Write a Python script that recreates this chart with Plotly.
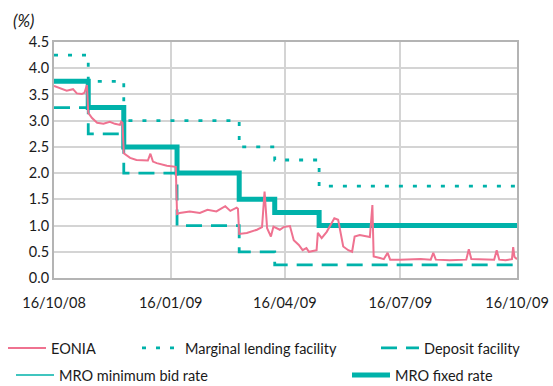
import plotly.graph_objects as go

# ECB policy rates (step series) - dates of change and new level, %
policy_dates = ["2008-10-16", "2008-11-12", "2008-12-10", "2009-01-21",
                "2009-03-11", "2009-04-08", "2009-05-13", "2009-10-16"]
mro_fixed = [3.75, 3.25, 2.50, 2.00, 1.50, 1.25, 1.00, 1.00]
marginal_lending = [4.25, 3.75, 3.00, 3.00, 2.50, 2.25, 1.75, 1.75]
deposit_facility = [3.25, 2.75, 2.00, 1.00, 0.50, 0.25, 0.25, 0.25]

# MRO minimum bid rate: variable-rate tenders were suspended over this window
mro_min_dates = [None]
mro_min_bid = [None]

# EONIA overnight rate, %
eonia_dates = [
    "2008-10-16", "2008-10-21", "2008-10-26", "2008-10-31", "2008-11-03",
    "2008-11-07", "2008-11-09", "2008-11-11", "2008-11-12", "2008-11-15",
    "2008-11-19", "2008-11-24", "2008-11-29", "2008-12-03", "2008-12-07",
    "2008-12-08", "2008-12-09", "2008-12-10", "2008-12-15", "2008-12-20",
    "2008-12-25", "2008-12-29", "2008-12-31", "2009-01-02", "2009-01-05",
    "2009-01-10", "2009-01-13", "2009-01-20", "2009-01-21", "2009-01-23",
    "2009-01-31", "2009-02-08", "2009-02-14", "2009-02-21", "2009-02-28",
    "2009-03-04", "2009-03-09", "2009-03-10", "2009-03-11", "2009-03-17",
    "2009-03-25", "2009-03-29", "2009-03-31", "2009-04-02", "2009-04-05",
    "2009-04-07", "2009-04-12", "2009-04-15", "2009-04-20", "2009-04-23",
    "2009-04-27", "2009-04-30", "2009-05-03", "2009-05-05", "2009-05-11",
    "2009-05-12", "2009-05-15", "2009-05-19", "2009-05-23", "2009-05-25",
    "2009-05-28", "2009-05-30", "2009-06-01", "2009-06-05", "2009-06-08",
    "2009-06-10", "2009-06-14", "2009-06-20", "2009-06-22", "2009-06-24",
    "2009-06-25", "2009-06-30", "2009-07-03", "2009-07-06", "2009-07-08",
    "2009-07-16", "2009-08-01", "2009-08-09", "2009-08-11", "2009-08-13",
    "2009-08-24", "2009-09-06", "2009-09-08", "2009-09-10", "2009-09-17",
    "2009-09-28", "2009-09-30", "2009-10-02", "2009-10-07", "2009-10-12",
    "2009-10-13", "2009-10-14", "2009-10-16",
]
eonia = [
    3.66, 3.61, 3.57, 3.60, 3.52,
    3.51, 3.53, 3.68, 3.15, 3.05,
    2.96, 2.94, 2.98, 2.94, 2.92,
    2.98, 2.96, 2.38, 2.29, 2.25,
    2.24, 2.24, 2.37, 2.22, 2.19,
    2.16, 2.14, 2.12, 1.22, 1.24,
    1.27, 1.24, 1.30, 1.27, 1.37,
    1.28, 1.34, 1.32, 0.84, 0.86,
    0.92, 0.97, 1.65, 0.95, 0.79,
    0.98, 0.92, 0.97, 0.99, 0.72,
    0.63, 0.53, 0.57, 0.50, 0.53,
    0.86, 0.76, 0.88, 1.07, 1.14,
    1.11, 0.86, 0.60, 0.53, 0.50,
    0.79, 0.82, 0.79, 0.78, 1.39,
    0.41, 0.38, 0.36, 0.48, 0.35,
    0.35, 0.36, 0.35, 0.48, 0.35,
    0.34, 0.35, 0.55, 0.36, 0.36,
    0.35, 0.53, 0.35, 0.34, 0.36,
    0.59, 0.40, 0.36,
]

x_tick_dates = ["2008-10-16", "2009-01-16", "2009-04-16", "2009-07-16", "2009-10-16"]
x_tick_labels = ["16/10/08", "16/01/09", "16/04/09", "16/07/09", "16/10/09"]
y_ticks = [0.0, 0.5, 1.0, 1.5, 2.0, 2.5, 3.0, 3.5, 4.0, 4.5]

TEAL = "#00b2aa"
PINK = "#ef7290"
FONT = "Lato"
INK = "#1a1a1a"
SIZE = 14.5

W, H = 553, 386
ML, MR, MT, MB = 54, 36, 42, 108
pw, ph = W - ML - MR, H - MT - MB

fig = go.Figure()

fig.add_trace(go.Scatter(
    x=policy_dates, y=mro_fixed, mode="lines", line_shape="hv",
    line=dict(color=TEAL, width=5), name="MRO fixed rate", legend="legend5"))
fig.add_trace(go.Scatter(
    x=mro_min_dates, y=mro_min_bid, mode="lines", line_shape="hv",
    line=dict(color=TEAL, width=1.5), name="MRO minimum bid rate",
    legend="legend4"))
fig.add_trace(go.Scatter(
    x=policy_dates, y=marginal_lending, mode="lines", line_shape="hv",
    line=dict(color=TEAL, width=2.8, dash="4px,10px"),
    name="Marginal lending facility", legend="legend2"))
fig.add_trace(go.Scatter(
    x=policy_dates, y=deposit_facility, mode="lines", line_shape="hv",
    line=dict(color=TEAL, width=2.8, dash="16px,9px"),
    name="Deposit facility", legend="legend3"))
fig.add_trace(go.Scatter(
    x=eonia_dates, y=eonia, mode="lines",
    line=dict(color=PINK, width=2), name="EONIA", legend="legend"))


def lg(xpx, ypx):
    """Legend anchored at a point given in container pixels."""
    return dict(x=xpx / W, y=1 - ypx / H, xref="container", yref="container",
                xanchor="left", yanchor="middle", orientation="h",
                bgcolor="rgba(0,0,0,0)", borderwidth=0, itemwidth=38,
                font=dict(family=FONT, size=SIZE, color=INK))


fig.update_layout(
    width=W, height=H,
    margin=dict(l=ML, r=MR, t=MT, b=MB, autoexpand=False),
    paper_bgcolor="white", plot_bgcolor="white",
    font=dict(family=FONT, size=SIZE, color=INK),
    showlegend=True,
    legend=lg(3, 348),
    legend2=lg(137, 348),
    legend3=lg(376, 348),
    legend4=lg(11, 375),
    legend5=lg(347, 375),
    xaxis=dict(
        type="date", range=["2008-10-16", "2009-10-16"],
        tickvals=x_tick_dates, ticktext=x_tick_labels,
        showgrid=True, gridcolor="#d4d4d4", gridwidth=1.5,
        showline=True, linecolor="#b4b4b4", linewidth=2, mirror=True,
        ticks="", ticklabelstandoff=11, zeroline=False,
        tickfont=dict(family=FONT, size=SIZE, color=INK),
    ),
    yaxis=dict(
        range=[0, 4.5], tickvals=y_ticks,
        ticktext=[f"{v:.1f}" for v in y_ticks],
        showgrid=True, gridcolor="#d4d4d4", gridwidth=1.5,
        showline=True, linecolor="#b4b4b4", linewidth=2, mirror=True,
        ticks="", ticklabelstandoff=0, zeroline=False,
        tickfont=dict(family=FONT, size=SIZE, color=INK),
    ),
    # unit label above the y axis, positioned relative to the plot area
    annotations=[dict(
        text="<i>(%)</i>", x=(11 - ML) / pw, y=(H - MB - 20) / ph,
        xref="paper", yref="paper", xanchor="left", yanchor="middle",
        showarrow=False, font=dict(family=FONT, size=17, color=INK))],
)

fig.write_html("out.html")
